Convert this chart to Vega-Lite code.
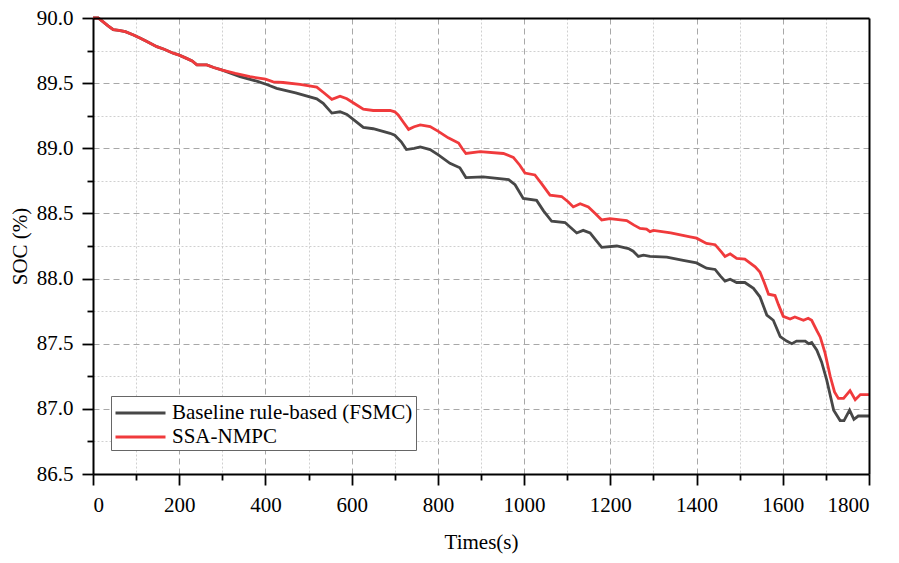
{
  "$schema": "https://vega.github.io/schema/vega-lite/v6.json",
  "width": 776,
  "height": 456,
  "autosize": "none",
  "padding": {"left": 93, "top": 18, "right": 30, "bottom": 89},
  "datasets": {
    "fsmc": [
      {"t": 0, "soc": 90.0}, {"t": 12, "soc": 90.0}, {"t": 20, "soc": 89.98}, {"t": 35, "soc": 89.94},
      {"t": 47, "soc": 89.91}, {"t": 60, "soc": 89.905}, {"t": 75, "soc": 89.895}, {"t": 94, "soc": 89.87},
      {"t": 110, "soc": 89.845}, {"t": 125, "soc": 89.82}, {"t": 148, "soc": 89.78}, {"t": 165, "soc": 89.76},
      {"t": 186, "soc": 89.73}, {"t": 200, "soc": 89.715}, {"t": 217, "soc": 89.69}, {"t": 230, "soc": 89.67},
      {"t": 241, "soc": 89.64}, {"t": 264, "soc": 89.64}, {"t": 280, "soc": 89.62}, {"t": 300, "soc": 89.6},
      {"t": 341, "soc": 89.55}, {"t": 380, "soc": 89.515}, {"t": 403, "soc": 89.49}, {"t": 426, "soc": 89.46},
      {"t": 470, "soc": 89.425}, {"t": 519, "soc": 89.38}, {"t": 534, "soc": 89.345}, {"t": 554, "soc": 89.27},
      {"t": 573, "soc": 89.28}, {"t": 589, "soc": 89.26}, {"t": 608, "soc": 89.21}, {"t": 627, "soc": 89.16},
      {"t": 650, "soc": 89.15}, {"t": 689, "soc": 89.115}, {"t": 700, "soc": 89.1}, {"t": 715, "soc": 89.05},
      {"t": 727, "soc": 88.99}, {"t": 745, "soc": 89.0}, {"t": 759, "soc": 89.01}, {"t": 782, "soc": 88.99},
      {"t": 801, "soc": 88.95}, {"t": 828, "soc": 88.885}, {"t": 851, "soc": 88.85}, {"t": 865, "soc": 88.775},
      {"t": 905, "soc": 88.78}, {"t": 964, "soc": 88.76}, {"t": 979, "soc": 88.72}, {"t": 998, "soc": 88.615},
      {"t": 1029, "soc": 88.6}, {"t": 1045, "soc": 88.52}, {"t": 1064, "soc": 88.44}, {"t": 1095, "soc": 88.43},
      {"t": 1122, "soc": 88.35}, {"t": 1137, "soc": 88.37}, {"t": 1153, "soc": 88.35}, {"t": 1165, "soc": 88.3},
      {"t": 1180, "soc": 88.24}, {"t": 1215, "soc": 88.25}, {"t": 1242, "soc": 88.23}, {"t": 1253, "soc": 88.21},
      {"t": 1265, "soc": 88.17}, {"t": 1277, "soc": 88.18}, {"t": 1292, "soc": 88.17}, {"t": 1331, "soc": 88.165},
      {"t": 1369, "soc": 88.14}, {"t": 1400, "soc": 88.12}, {"t": 1423, "soc": 88.08}, {"t": 1443, "soc": 88.07},
      {"t": 1455, "soc": 88.02}, {"t": 1466, "soc": 87.98}, {"t": 1478, "soc": 87.995}, {"t": 1493, "soc": 87.97},
      {"t": 1512, "soc": 87.97}, {"t": 1532, "soc": 87.925}, {"t": 1547, "soc": 87.86}, {"t": 1563, "soc": 87.72},
      {"t": 1578, "soc": 87.68}, {"t": 1594, "soc": 87.555}, {"t": 1609, "soc": 87.52}, {"t": 1621, "soc": 87.5},
      {"t": 1632, "soc": 87.52}, {"t": 1652, "soc": 87.52}, {"t": 1660, "soc": 87.5}, {"t": 1667, "soc": 87.51},
      {"t": 1679, "soc": 87.45}, {"t": 1690, "soc": 87.36}, {"t": 1702, "soc": 87.22}, {"t": 1718, "soc": 86.99},
      {"t": 1733, "soc": 86.91}, {"t": 1742, "soc": 86.91}, {"t": 1755, "soc": 86.99}, {"t": 1765, "soc": 86.92},
      {"t": 1775, "soc": 86.945}, {"t": 1800, "soc": 86.945}
    ],
    "nmpc": [
      {"t": 0, "soc": 90.0}, {"t": 12, "soc": 90.0}, {"t": 20, "soc": 89.98}, {"t": 35, "soc": 89.94},
      {"t": 47, "soc": 89.91}, {"t": 60, "soc": 89.905}, {"t": 75, "soc": 89.895}, {"t": 94, "soc": 89.87},
      {"t": 110, "soc": 89.845}, {"t": 125, "soc": 89.82}, {"t": 148, "soc": 89.78}, {"t": 165, "soc": 89.76},
      {"t": 186, "soc": 89.73}, {"t": 200, "soc": 89.715}, {"t": 217, "soc": 89.69}, {"t": 230, "soc": 89.67},
      {"t": 241, "soc": 89.64}, {"t": 264, "soc": 89.64}, {"t": 280, "soc": 89.62}, {"t": 300, "soc": 89.6},
      {"t": 330, "soc": 89.575}, {"t": 364, "soc": 89.55}, {"t": 400, "soc": 89.53}, {"t": 418, "soc": 89.51},
      {"t": 441, "soc": 89.505}, {"t": 480, "soc": 89.49}, {"t": 519, "soc": 89.47}, {"t": 534, "soc": 89.43},
      {"t": 554, "soc": 89.376}, {"t": 573, "soc": 89.4}, {"t": 589, "soc": 89.38}, {"t": 608, "soc": 89.34},
      {"t": 627, "soc": 89.3}, {"t": 650, "soc": 89.29}, {"t": 689, "soc": 89.29}, {"t": 700, "soc": 89.28},
      {"t": 708, "soc": 89.256}, {"t": 720, "soc": 89.2}, {"t": 732, "soc": 89.145}, {"t": 745, "soc": 89.165},
      {"t": 759, "soc": 89.18}, {"t": 782, "soc": 89.166}, {"t": 801, "soc": 89.13}, {"t": 824, "soc": 89.08},
      {"t": 848, "soc": 89.04}, {"t": 856, "soc": 89.0}, {"t": 865, "soc": 88.96}, {"t": 898, "soc": 88.975},
      {"t": 952, "soc": 88.96}, {"t": 975, "soc": 88.93}, {"t": 990, "soc": 88.87}, {"t": 1002, "soc": 88.81},
      {"t": 1025, "soc": 88.795}, {"t": 1040, "soc": 88.73}, {"t": 1060, "soc": 88.64}, {"t": 1087, "soc": 88.63},
      {"t": 1102, "soc": 88.59}, {"t": 1114, "soc": 88.55}, {"t": 1130, "soc": 88.575}, {"t": 1149, "soc": 88.55},
      {"t": 1165, "soc": 88.5}, {"t": 1180, "soc": 88.45}, {"t": 1199, "soc": 88.46}, {"t": 1238, "soc": 88.445},
      {"t": 1255, "soc": 88.41}, {"t": 1269, "soc": 88.385}, {"t": 1284, "soc": 88.38}, {"t": 1292, "soc": 88.36},
      {"t": 1300, "soc": 88.37}, {"t": 1340, "soc": 88.35}, {"t": 1385, "soc": 88.32}, {"t": 1400, "soc": 88.31},
      {"t": 1423, "soc": 88.27}, {"t": 1443, "soc": 88.26}, {"t": 1456, "soc": 88.21}, {"t": 1466, "soc": 88.17},
      {"t": 1478, "soc": 88.19}, {"t": 1493, "soc": 88.155}, {"t": 1512, "soc": 88.15}, {"t": 1536, "soc": 88.09},
      {"t": 1547, "soc": 88.05}, {"t": 1557, "soc": 87.97}, {"t": 1567, "soc": 87.88}, {"t": 1582, "soc": 87.87},
      {"t": 1590, "soc": 87.8}, {"t": 1601, "soc": 87.71}, {"t": 1617, "soc": 87.69}, {"t": 1628, "soc": 87.705},
      {"t": 1648, "soc": 87.68}, {"t": 1659, "soc": 87.695}, {"t": 1667, "soc": 87.68}, {"t": 1679, "soc": 87.6},
      {"t": 1687, "soc": 87.55}, {"t": 1698, "soc": 87.43}, {"t": 1710, "soc": 87.25}, {"t": 1720, "soc": 87.13},
      {"t": 1729, "soc": 87.08}, {"t": 1741, "soc": 87.08}, {"t": 1756, "soc": 87.14}, {"t": 1768, "soc": 87.07},
      {"t": 1780, "soc": 87.11}, {"t": 1800, "soc": 87.11}
    ]
  },
  "layer": [
    {
      "data": {"name": "fsmc"},
      "mark": {"type": "line", "opacity": 0},
      "encoding": {
        "x": {
          "field": "t", "type": "quantitative",
          "scale": {"domain": [0, 1800], "nice": false},
          "axis": {
            "orient": "bottom", "title": null, "labels": false, "domain": false, "zindex": 0,
            "values": [100, 300, 500, 700, 900, 1100, 1300, 1500, 1700],
            "tickSize": 6, "tickWidth": 1.8, "tickColor": "#000",
            "grid": true, "gridColor": "#d0d0d0", "gridDash": [2, 2], "gridWidth": 1
          }
        },
        "y": {
          "field": "soc", "type": "quantitative",
          "scale": {"domain": [86.5, 90], "nice": false, "zero": false},
          "axis": {
            "orient": "left", "title": null, "labels": false, "domain": false, "zindex": 0,
            "values": [86.75, 87.25, 87.75, 88.25, 88.75, 89.25, 89.75],
            "tickSize": 6, "tickWidth": 1.8, "tickColor": "#000",
            "grid": true, "gridColor": "#d0d0d0", "gridDash": [2, 2], "gridWidth": 1
          }
        }
      }
    },
    {
      "data": {"name": "fsmc"},
      "mark": {"type": "line", "opacity": 0},
      "encoding": {
        "x": {
          "field": "t", "type": "quantitative",
          "axis": {
            "orient": "bottom", "title": null, "labels": false, "domain": false, "ticks": false, "zindex": 0,
            "values": [200, 400, 600, 800, 1000, 1200, 1400, 1600],
            "grid": true, "gridColor": "#a8a8a8", "gridDash": [6, 4], "gridWidth": 1
          }
        },
        "y": {
          "field": "soc", "type": "quantitative",
          "axis": {
            "orient": "left", "title": null, "labels": false, "domain": false, "ticks": false, "zindex": 0,
            "values": [87, 87.5, 88, 88.5, 89, 89.5],
            "grid": true, "gridColor": "#a8a8a8", "gridDash": [6, 4], "gridWidth": 1
          }
        }
      }
    },
    {
      "data": {"name": "fsmc"},
      "mark": {"type": "line", "opacity": 0},
      "encoding": {
        "x": {
          "field": "t", "type": "quantitative",
          "axis": {
            "orient": "top", "title": null, "labels": false, "ticks": false, "grid": false, "zindex": 2,
            "domainColor": "#000", "domainWidth": 2
          }
        },
        "y": {
          "field": "soc", "type": "quantitative",
          "axis": {
            "orient": "right", "title": null, "labels": false, "ticks": false, "grid": false, "zindex": 2,
            "domainColor": "#000", "domainWidth": 2
          }
        }
      }
    },
    {
      "data": {"name": "fsmc"},
      "mark": {"type": "line", "strokeWidth": 2.8},
      "encoding": {
        "x": {
          "field": "t", "type": "quantitative",
          "axis": {
            "orient": "bottom", "title": "Times(s)", "grid": false, "zindex": 2,
            "values": [0, 200, 400, 600, 800, 1000, 1200, 1400, 1600, 1800],
            "format": "d", "labelPadding": 9, "titlePadding": 16,
            "tickSize": 11, "tickWidth": 1.8, "tickColor": "#000",
            "domainColor": "#000", "domainWidth": 2
          }
        },
        "y": {
          "field": "soc", "type": "quantitative",
          "axis": {
            "orient": "left", "title": "SOC (%)", "grid": false, "zindex": 2,
            "values": [86.5, 87, 87.5, 88, 88.5, 89, 89.5, 90],
            "format": ".1f", "labelPadding": 9, "titlePadding": 6,
            "tickSize": 11, "tickWidth": 1.8, "tickColor": "#000",
            "domainColor": "#000", "domainWidth": 2
          }
        },
        "color": {"datum": "Baseline rule-based (FSMC)"}
      }
    },
    {
      "data": {"name": "nmpc"},
      "mark": {"type": "line", "strokeWidth": 2.8},
      "encoding": {
        "x": {"field": "t", "type": "quantitative", "axis": null},
        "y": {"field": "soc", "type": "quantitative", "axis": null},
        "color": {
          "datum": "SSA-NMPC",
          "scale": {
            "domain": ["Baseline rule-based (FSMC)", "SSA-NMPC"],
            "range": ["#474747", "#f03a3c"]
          },
          "legend": {
            "title": null, "orient": "none", "legendX": 18, "legendY": 378,
            "symbolType": "M-1,0H3", "symbolSize": 625, "symbolStrokeWidth": 3,
            "labelFontSize": 21, "labelLimit": 0, "labelOffset": 30,
            "padding": 3, "rowPadding": 0,
            "strokeColor": "#666", "fillColor": "#fff"
          }
        }
      }
    }
  ],
  "resolve": {"axis": {"x": "independent", "y": "independent"}},
  "config": {
    "font": "Liberation Serif",
    "view": {"stroke": null},
    "axis": {
      "labelFont": "Liberation Serif", "labelFontSize": 21, "labelColor": "#000",
      "titleFont": "Liberation Serif", "titleFontSize": 21, "titleFontWeight": "normal", "titleColor": "#000"
    },
    "legend": {"labelFont": "Liberation Serif", "labelColor": "#000"}
  }
}
